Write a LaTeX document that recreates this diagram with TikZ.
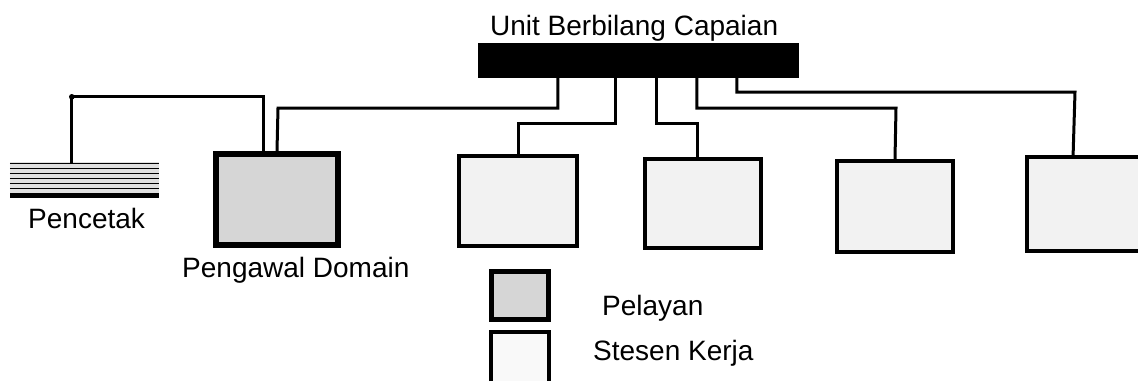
\documentclass[tikz,border=0pt]{standalone}
\usepackage{fontspec}
\setmainfont{Liberation Sans}
\usetikzlibrary{calc}
\begin{document}
\begin{tikzpicture}[x=1pt,y=-1pt,
  lbl/.style={font=\fontsize{28}{33}\selectfont, inner sep=0pt, anchor=base west},
  wire/.style={line width=3pt, line cap=rect},
  ws/.style={draw=black, line width=3.8pt, fill=gray!10, inner sep=0pt},
  srv/.style={draw=black, line width=6pt, fill=gray!32, inner sep=0pt},
]
\useasboundingbox (0,0) rectangle (1138,381);
% hub bar
\node[fill=black, inner sep=0pt, minimum width=321pt, minimum height=35pt] (bar) at (638.5,60.5) {};
\node[lbl] (title) at (490,35) {Unit Berbilang Capaian};
% domain controller
\node[srv, minimum width=122pt, minimum height=91pt] (dc) at (277,199.5) {};
\node[lbl] (dclbl) at (182,277) {Pengawal Domain};
% workstations
\node[ws, minimum width=118pt, minimum height=90pt] (w1) at (518,201) {};
\node[ws, minimum width=116pt, minimum height=89pt] (w2) at (703,203.5) {};
\node[ws, minimum width=116pt, minimum height=91pt] (w3) at (895,206.5) {};
\node[ws, minimum width=160pt, minimum height=94pt] (w4) at (1107,204) {};
% printer
\node[fill=gray!25, inner sep=0pt, minimum width=149pt, minimum height=36pt] (pr) at (84.5,180) {};
\foreach \yy in {163.5,168.5,173.5,178.5,183.5,188.5}{
  \draw[line width=1.6pt] (pr.west |- 0,\yy) -- (pr.east |- 0,\yy);
}
\fill[black] ($(pr.south west)+(0,-5)$) rectangle (pr.south east);
\node[lbl] (prlbl) at (28,228) {Pencetak};
% printer wiring
\coordinate (pj) at ($(pr.north west)+(62,-65)$);
\draw[wire] ($(pr.north west)+(62,0)$) -- (pj) -| ($(dc.north west)+(50,0)$);
\fill (pj) circle (2.8pt);
% hub wiring
\draw[wire] ($(bar.south west)+(80,0)$) |- (278,108) -- (dc.north);
\draw[wire] ($(bar.south west)+(138,0)$) |- (518,123) -- (w1.north);
\draw[wire] ($(bar.south west)+(179,0)$) |- (697,123) -- ([xshift=-6pt]w2.north);
\draw[wire] ($(bar.south west)+(219,0)$) |- (896,108) -- (w3.north);
\draw[wire] ($(bar.south west)+(259,0)$) |- (1075,92) -- ([xshift=48pt]w4.north west);
% legend
\node[draw=black, line width=4.5pt, fill=gray!32, inner sep=0pt, minimum width=57pt, minimum height=48pt] (lgs) at (520,295.5) {};
\node[lbl] (lgslbl) at (602,315) {Pelayan};
\draw[line width=4pt, fill=gray!5] (491,381) -- (491,332) -- (549,332) -- (549,381);
\node[lbl] (lgwlbl) at (593,360) {Stesen Kerja};
\end{tikzpicture}
\end{document}
